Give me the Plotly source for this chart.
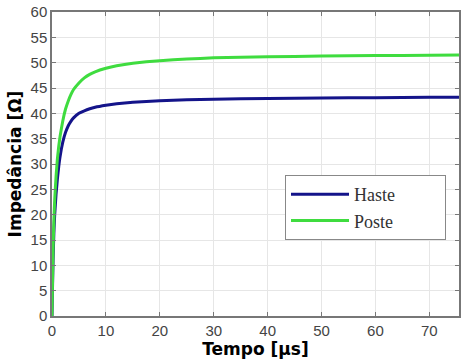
import plotly.graph_objects as go

t = [0, 0.1, 0.2, 0.35, 0.5, 0.75, 1, 1.25, 1.5, 2, 2.5, 3, 3.5, 4, 5, 6, 7, 8, 10, 12, 15, 20, 25, 30, 40, 50, 60, 70, 76]
haste = [0, 6, 11, 16.5, 20, 24, 27, 29.5, 31.5, 34.3, 36.2, 37.5, 38.4, 39.1, 40.0, 40.5, 40.9, 41.2, 41.6, 41.9, 42.2, 42.5, 42.7, 42.8, 42.95, 43.05, 43.1, 43.15, 43.15]
poste = [0, 7, 13, 19, 23, 27.5, 31, 33.5, 35.5, 38.5, 40.8, 42.4, 43.7, 44.7, 46.0, 47.0, 47.7, 48.2, 48.9, 49.4, 49.9, 50.4, 50.7, 50.95, 51.15, 51.3, 51.4, 51.45, 51.5]

xticks = [0, 10, 20, 30, 40, 50, 60, 70]
yticks = [0, 5, 10, 15, 20, 25, 30, 35, 40, 45, 50, 55, 60]

pad = "\u00a0" * 10

fig = go.Figure()
fig.add_trace(go.Scatter(x=t, y=haste, name="Haste" + pad, mode="lines", legendgroup="h",
                         line=dict(color="#14148a", width=3, shape="spline", smoothing=0.3)))
fig.add_trace(go.Scatter(x=t, y=poste, name="Poste" + pad, mode="lines", legendgroup="p",
                         line=dict(color="#3fdc3f", width=3, shape="spline", smoothing=0.3)))

axis_common = dict(showline=True, linecolor="#777777", linewidth=1.5, mirror="ticks",
                   ticks="inside", ticklen=4, tickcolor="#777777", automargin=False,
                   showgrid=True, gridcolor="#e6e6e6", gridwidth=1, zeroline=False,
                   tickfont=dict(family="Liberation Sans, Arial", size=15, color="#444444"))

fig.update_layout(
    width=468, height=363,
    margin=dict(l=52, r=9, t=12, b=47, autoexpand=False),
    paper_bgcolor="white", plot_bgcolor="white",
    xaxis=dict(range=[0, 75.5], tickvals=xticks,
               title=dict(text="<b>Tempo [μs]</b>", standoff=5,
                          font=dict(family="DejaVu Sans", size=17, color="black")),
               **axis_common),
    yaxis=dict(range=[0, 60], tickvals=yticks,
               title=dict(text="<b>Impedância [Ω]</b>", standoff=5,
                          font=dict(family="DejaVu Sans", size=17, color="black")),
               **axis_common),
    legend=dict(x=0.5725, y=0.464, xanchor="left", yanchor="top",
                bgcolor="white", bordercolor="#888888", borderwidth=1,
                font=dict(family="Liberation Serif, Times New Roman", size=18, color="#333333"),
                traceorder="grouped", tracegroupgap=0, itemwidth=58),
    showlegend=True,
)

fig.write_html("out.html", config={"displayModeBar": False},
               post_script="document.body.style.margin='0px';")
